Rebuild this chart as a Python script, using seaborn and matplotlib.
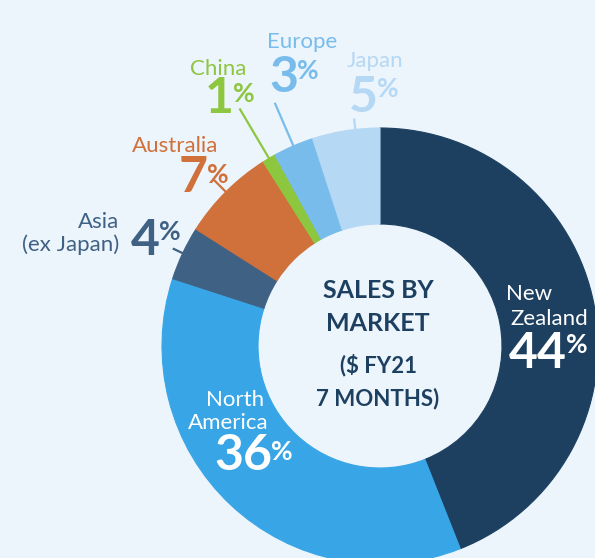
import matplotlib
matplotlib.use('Agg')
import matplotlib.pyplot as plt
import seaborn as sns
import numpy as np

# --- data ---
markets = ['New Zealand', 'North America', 'Asia (ex Japan)', 'Australia', 'China', 'Europe', 'Japan']
name_lines = [['New', 'Zealand'], ['North', 'America'], ['Asia', '(ex Japan)'],
              ['Australia'], ['China'], ['Europe'], ['Japan']]
shares = [44, 36, 4, 7, 1, 3, 5]
colors = ['#1d4060', '#38a6e6', '#3f6184', '#d0703a', '#8dc63f', '#78bcec', '#b5d8f4']
title_lines = ['SALES BY', 'MARKET']
sub_lines = ['($ FY21', '7 MONTHS)']

# --- layout (pixel coords, y measured from top) ---
W, H = 595, 558
bg = '#ecf4fc'
navy = '#1d4060'
cx, cy = 380, 346
R, r = 218, 122

# name label: (centre x, baseline y) for each line
name_pos = [[(529, 300.5), (549, 325)], [(235, 406), (228.5, 429)],
            [(99, 228), (71, 251)], [(175, 152)], [(218, 75)], [(302, 48)], [(375.5, 67)]]
# big number: (left x, baseline y), percent sign top y
num_pos = [(509, 368), (214, 470), (131, 255), (179, 192), (205, 113), (269, 92), (349, 112)]
pct_top = [333, 440, 220, 163, 82, 59, 77]
# leader: angle override (None = wedge middle) and length beyond the ring
leader_angle = [None, None, None, None, None, None, 96.5]
leader = [None, None, 11, 17, 58, 47, 11]


def Y(y):
    return H - y


sns.set_theme(style='white')
plt.rcParams['font.family'] = ['Lato', 'DejaVu Sans']

fig = plt.figure(figsize=(W / 100, H / 100), dpi=100, facecolor=bg)
ax = fig.add_axes([0, 0, 1, 1])
ax.set_facecolor(bg)

palette = sns.color_palette(colors)
wedges, _ = ax.pie(shares, colors=palette, startangle=90, counterclock=False,
                   radius=R, center=(cx, Y(cy)),
                   wedgeprops=dict(width=R - r, linewidth=0.8))
for w in wedges:
    w.set_edgecolor(w.get_facecolor())

ax.set_xlim(0, W)
ax.set_ylim(0, H)
ax.set_aspect('equal')
ax.axis('off')

# leader lines, radial from each small wedge
cum = np.cumsum(shares)
for i, ext in enumerate(leader):
    if ext is None:
        continue
    ang = leader_angle[i]
    if ang is None:
        ang = 90 - 360 * (cum[i] - shares[i] / 2) / 100
    mid = np.deg2rad(ang)
    xs = [cx + R * np.cos(mid), cx + (R + ext) * np.cos(mid)]
    ys = [Y(cy) + R * np.sin(mid), Y(cy) + (R + ext) * np.sin(mid)]
    ax.plot(xs, ys, color=colors[i], lw=1.6, solid_capstyle='butt')

renderer = fig.canvas.get_renderer()
for i, lines in enumerate(name_lines):
    col = 'white' if leader[i] is None else colors[i]
    for txt, (x, y) in zip(lines, name_pos[i]):
        ax.text(x, Y(y), txt, ha='center', va='baseline', fontsize=16, color=col)
    nx, ny = num_pos[i]
    t = ax.text(nx, Y(ny), str(shares[i]), ha='left', va='baseline',
                fontsize=36, fontweight='bold', color=col)
    bb = t.get_window_extent(renderer)
    ax.text(bb.x1 - 1, Y(pct_top[i]), '%', ha='left', va='top',
            fontsize=19, fontweight='bold', color=col)

# centre text
for txt, y in zip(title_lines, [298, 331]):
    ax.text(378, Y(y), txt, ha='center', va='baseline', fontsize=18,
            fontweight='bold', color=navy)
for txt, y in zip(sub_lines, [372, 405]):
    ax.text(378, Y(y), txt, ha='center', va='baseline', fontsize=16,
            fontweight='bold', color=navy)

fig.savefig('out.png', dpi=100, facecolor=bg)
